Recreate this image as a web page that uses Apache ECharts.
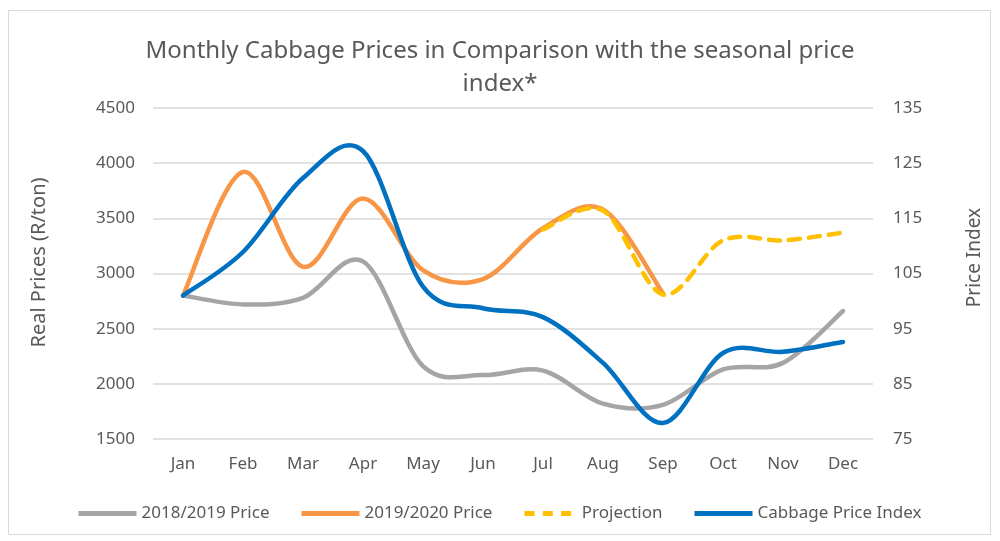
<!DOCTYPE html>
<html><head><meta charset="utf-8">
<script src="https://cdn.jsdelivr.net/npm/echarts@6/dist/echarts.min.js"></script>
<style>html,body{margin:0;padding:0;background:#fff}#c{width:1000px;height:541px}</style>
</head><body><div id="c"></div>
<script>
const months = ['Jan','Feb','Mar','Apr','May','Jun','Jul','Aug','Sep','Oct','Nov','Dec'];
const price1819 = [2800, 2720, 2780, 3110, 2160, 2080, 2120, 1820, 1810, 2130, 2190, 2660];
const price1920 = [2800, 3920, 3060, 3680, 3030, 2950, 3410, 3580, 2820, null, null, null];
const projection = [null, null, null, null, null, null, 3400, 3570, 2810, 3300, 3300, 3370];
const priceIndex = [101, 108.9, 122.3, 127.2, 102.6, 98.7, 97.1, 88.8, 77.9, 90.6, 90.8, 92.6];
const leftTicks = {min: 1500, max: 4500, interval: 500};
const rightTicks = {min: 75, max: 135, interval: 10};

const txt = '#595959';
const font = 'Noto Sans';

// Excel-like smoothed line drawn through the chart's own axes (api.coord)
function smoothSeries(name, values, color, yAxisIndex, dash) {
  const pairs = [];
  values.forEach((v, i) => { if (v !== null && v !== undefined) pairs.push([i, v]); });
  return {
    name, type: 'custom', yAxisIndex, data: pairs, encode: {x: 0, y: 1},
    itemStyle: {color},
    renderItem: function (params, api) {
      if (params.dataIndex !== 0) return null;
      const p = pairs.map(d => api.coord(d));
      const n = p.length;
      let d = 'M' + p[0][0] + ',' + p[0][1];
      for (let k = 0; k < n - 1; k++) {
        const a = p[k], b = p[k + 1];
        const pa = p[k > 0 ? k - 1 : k], nb = p[k + 2 < n ? k + 2 : k + 1];
        const c1 = [a[0] + (b[0] - pa[0]) / 6, a[1] + (b[1] - pa[1]) / 6];
        const c2 = [b[0] - (nb[0] - a[0]) / 6, b[1] - (nb[1] - a[1]) / 6];
        d += ' C' + c1[0] + ',' + c1[1] + ' ' + c2[0] + ',' + c2[1] + ' ' + b[0] + ',' + b[1];
      }
      return {
        type: 'path', shape: {pathData: d},
        style: {fill: 'none', stroke: color, lineWidth: 4.5, lineDash: dash || null, lineCap: 'round', lineJoin: 'round'}
      };
    }
  };
}

const chart = echarts.init(document.getElementById('c'));
chart.setOption({
  animation: false,
  textStyle: {fontFamily: font},
  graphic: [{type: 'rect', shape: {x: 8.5, y: 10.5, width: 982, height: 524}, style: {fill: 'none', stroke: '#d9d9d9', lineWidth: 1}, silent: true}],
  title: {
    text: 'Monthly Cabbage Prices in Comparison with the seasonal price\nindex*',
    left: 'center', top: 30,
    textStyle: {color: txt, fontSize: 24, fontWeight: 'normal', fontFamily: font, lineHeight: 33}
  },
  grid: {left: 153, right: 127, top: 108, bottom: 102},
  legend: {
    bottom: 14, left: 'center', itemWidth: 58, itemHeight: 5, itemGap: 32,
    textStyle: {color: txt, fontSize: 17, fontFamily: font},
    data: [
      {name: '2018/2019 Price', icon: 'rect'},
      {name: '2019/2020 Price', icon: 'rect'},
      {name: 'Projection', icon: 'path://M0,0h12v6h-12z M22,0h12v6h-12z M44,0h12v6h-12z'},
      {name: 'Cabbage Price Index', icon: 'rect'}
    ]
  },
  xAxis: {
    type: 'category', data: months, boundaryGap: true,
    axisLine: {show: false}, axisTick: {show: false},
    axisLabel: {color: txt, fontSize: 17, margin: 17, fontFamily: font}
  },
  yAxis: [{
    type: 'value', min: leftTicks.min, max: leftTicks.max, interval: leftTicks.interval,
    name: 'Real Prices (R/ton)', nameLocation: 'middle', nameGap: 104, nameRotate: 90,
    nameTextStyle: {color: txt, fontSize: 20, fontFamily: font, padding: [0, 0, 0, 22]},
    axisLine: {show: false}, axisTick: {show: false},
    axisLabel: {color: txt, fontSize: 17, margin: 18, fontFamily: font, formatter: v => String(v)},
    splitLine: {lineStyle: {color: '#d9d9d9', width: 1.5}}
  }, {
    type: 'value', min: rightTicks.min, max: rightTicks.max, interval: rightTicks.interval,
    name: 'Price Index', nameLocation: 'middle', nameGap: 92, nameRotate: 90,
    nameTextStyle: {color: txt, fontSize: 19, fontFamily: font, padding: [0, 0, 0, 32]},
    axisLine: {show: false}, axisTick: {show: false},
    axisLabel: {color: txt, fontSize: 17, margin: 20, fontFamily: font, formatter: v => String(v)},
    splitLine: {show: false}
  }],
  series: [
    smoothSeries('2018/2019 Price', price1819, '#A5A5A5', 0),
    smoothSeries('2019/2020 Price', price1920, '#F79646', 0),
    smoothSeries('Projection', projection, '#FFC000', 0, [11, 9]),
    smoothSeries('Cabbage Price Index', priceIndex, '#0070C0', 1)
  ]
});
</script></body></html>
